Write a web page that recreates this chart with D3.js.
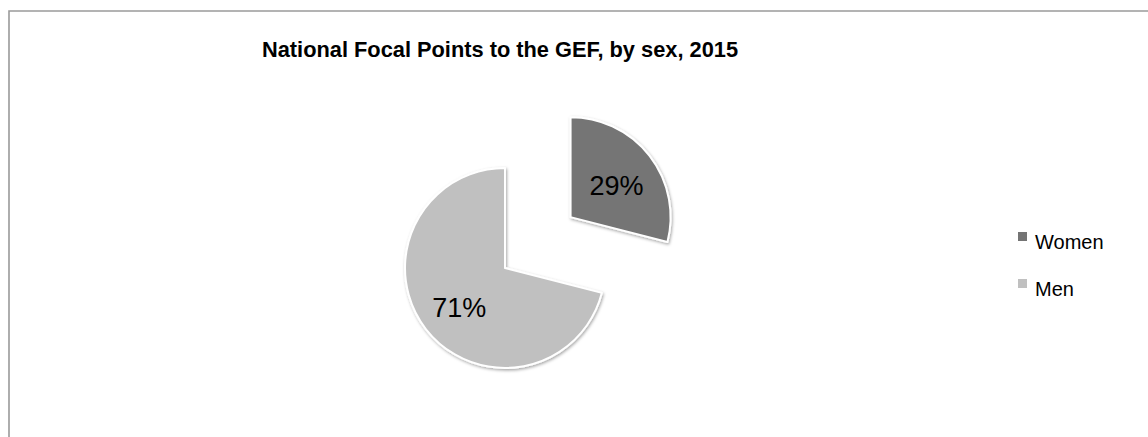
<!DOCTYPE html>
<html>
<head>
<meta charset="utf-8">
<script src="https://cdn.jsdelivr.net/npm/d3@7"></script>
<style>
  html, body { margin: 0; padding: 0; background: #fff; }
  svg { display: block; }
  text { font-family: "Liberation Sans", Arial, Helvetica, sans-serif; }
</style>
</head>
<body>
<script>
const title = "National Focal Points to the GEF, by sex, 2015";
const categories = ["Women", "Men"];
const shares = [29, 71];
const labels = ["29%", "71%"];
const colors = ["#747474", "#c0c0c0"];

const W = 1148, H = 437;
const svg = d3.select("body").append("svg").attr("width", W).attr("height", H);

const defs = svg.append("defs");
const f = defs.append("filter").attr("id", "sh").attr("x", "-20%").attr("y", "-20%").attr("width", "140%").attr("height", "140%");
f.append("feDropShadow").attr("dx", 1).attr("dy", 1.5).attr("stdDeviation", 1.5).attr("flood-color", "#000").attr("flood-opacity", 0.35);

// chart border (extends past right/bottom edge)
svg.append("path")
  .attr("d", "M9,460 L9,11 L1170,11")
  .attr("fill", "none").attr("stroke", "#9a9a9a").attr("stroke-width", 1.6);

svg.append("text")
  .attr("x", 500).attr("y", 57)
  .attr("text-anchor", "middle")
  .attr("font-weight", "bold").attr("font-size", 21.8)
  .attr("fill", "#000")
  .text(title);

const cx = 505, cy = 268, R = 100, explode = 83;
const pie = d3.pie().sort(null).value(d => d)(shares);
const arc = d3.arc().innerRadius(0).outerRadius(R);
const labelArc = d3.arc().innerRadius(R * 0.58).outerRadius(R * 0.58);

const g = svg.append("g").attr("transform", `translate(${cx},${cy})`);
const slices = g.selectAll("g.slice").data(pie).join("g")
  .attr("class", "slice")
  .attr("transform", (d, i) => {
    if (i !== 0) return null;
    const a = (d.startAngle + d.endAngle) / 2;
    return `translate(${Math.sin(a) * explode},${-Math.cos(a) * explode})`;
  });

slices.append("path")
  .attr("d", arc)
  .attr("fill", (d, i) => colors[i])
  .attr("stroke", "#fff").attr("stroke-width", 2)
  .attr("stroke-linejoin", "round")
  .attr("filter", "url(#sh)");

slices.append("text")
  .attr("transform", d => `translate(${labelArc.centroid(d)})`)
  .attr("text-anchor", "middle").attr("dy", "0.5em")
  .attr("font-size", 27).attr("fill", "#000")
  .text((d, i) => labels[i]);

const leg = svg.append("g").attr("transform", "translate(1018,232)");
const items = leg.selectAll("g").data(categories).join("g")
  .attr("transform", (d, i) => `translate(0,${i * 47})`);
items.append("rect").attr("width", 9).attr("height", 9)
  .attr("fill", (d, i) => colors[i]);
items.append("text").attr("x", 17).attr("y", 17)
  .attr("font-size", 20).attr("fill", "#000")
  .text(d => d);
</script>
</body>
</html>
